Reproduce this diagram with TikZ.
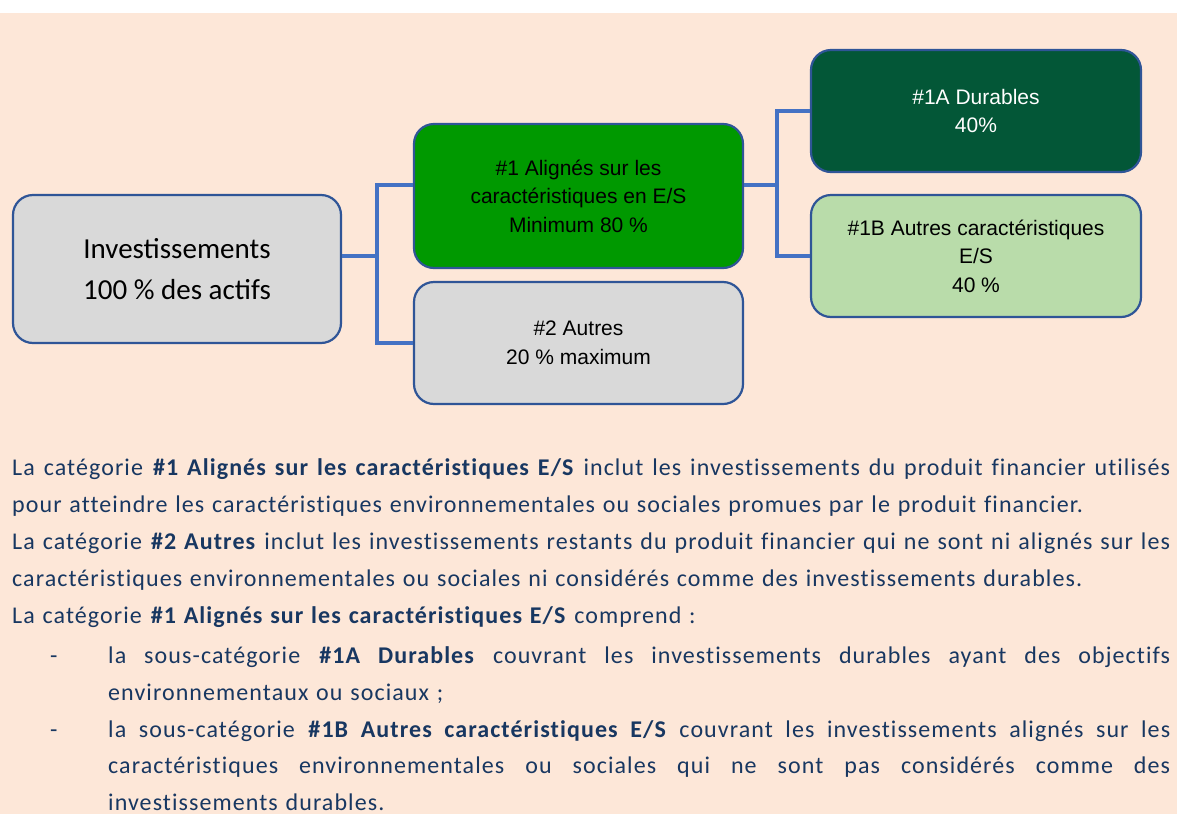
\documentclass[tikz,border=0pt]{standalone}
\usepackage{fontspec}
\setmainfont{Carlito}[Ligatures={NoCommon}, LetterSpace=4.5, WordSpace=1.2]
\newfontfamily\boxfont{Carlito}
\newfontfamily\arialfont{Liberation Sans}
\usetikzlibrary{positioning}
\definecolor{peach}{RGB}{253,231,216}
\definecolor{boxline}{RGB}{47,85,151}
\definecolor{linkblue}{RGB}{68,114,196}
\definecolor{greyfill}{RGB}{217,217,217}
\definecolor{greenfill}{RGB}{0,153,0}
\definecolor{darkgreen}{RGB}{3,87,55}
\definecolor{palegreen}{RGB}{185,220,170}
\definecolor{navytext}{RGB}{24,55,97}
\tikzset{
  box/.style={draw=boxline, line width=2.2pt, rounded corners=20pt, align=center,
    inner sep=0pt, minimum width=329pt, minimum height=122pt,
    font=\arialfont\fontsize{21}{28.5}\selectfont},
  link/.style={draw=linkblue, line width=4.5pt},
  para/.style={anchor=base west, inner sep=0pt, text width=1158pt, align=justify,
    text=navytext, font=\fontsize{24}{37}\selectfont}
}
\begin{document}
\begin{tikzpicture}[x=1pt,y=-1pt]
  \useasboundingbox (0,0) rectangle (1177,814);
  \fill[white] (0,0) rectangle (1177,13);
  \fill[peach] (0,13) rectangle (1177,814);
  % boxes
  \node[box, fill=greyfill, minimum width=328pt, minimum height=148pt,
    font=\boxfont\fontsize{29}{41}\selectfont] (inv) at (177,269) {Investissements\\100 \% des actifs};
  \node[box, fill=greenfill, minimum height=144pt] (alig) at (578.5,196)
    {\#1 Alignés sur les\\caractéristiques en E/S\\Minimum 80 \%};
  \node[box, fill=greyfill] (autr) at (578.5,343) {\#2 Autres\\20 \% maximum};
  \node[box, fill=darkgreen, text=white, minimum width=330pt] (dura) at (976,111)
    {\#1A Durables\\40\%};
  \node[box, fill=palegreen, minimum width=330pt] (autc) at (976,256)
    {\#1B Autres caractéristiques\\E/S\\40 \%};
  % connectors
  \coordinate (fork1) at (377,256);
  \coordinate (fork2) at (777,185);
  \draw[link] ([yshift=13pt]inv.east) -- (fork1);
  \draw[link] ([yshift=11pt]alig.west) -| (fork1) |- (autr.west);
  \draw[link] ([yshift=11pt]alig.east) -- (fork2);
  \draw[link] (dura.west) -| (fork2) |- (autc.west);
  % text below
  \node[para] (txtA) at (12,475) {La catégorie \textbf{\#1 Alignés sur les caractéristiques E/S} inclut les investissements du produit financier utilisés\linebreak pour atteindre les caractéristiques environnementales ou sociales promues par le produit financier.};
  \node[para] (txtB) at (12,549) {La catégorie \textbf{\#2 Autres} inclut les investissements restants du produit financier qui ne sont ni alignés sur les\linebreak caractéristiques environnementales ou sociales ni considérés comme des investissements durables.};
  \node[para] (txtC) at (12,623) {La catégorie \textbf{\#1 Alignés sur les caractéristiques E/S} comprend~:};
  \node[para, text width=20pt] (dashA) at (50,663) {-};
  \node[para, text width=1062pt] (itemA) at (108,663) {la sous-catégorie \textbf{\#1A Durables} couvrant les investissements durables ayant des objectifs\linebreak environnementaux ou sociaux~;};
  \node[para, text width=20pt] (dashB) at (50,737) {-};
  \node[para, text width=1062pt, font=\fontsize{24}{36.5}\selectfont] (itemB) at (108,737) {la sous-catégorie \textbf{\#1B Autres caractéristiques E/S} couvrant les investissements alignés sur les\linebreak caractéristiques environnementales ou sociales qui ne sont pas considérés comme des\linebreak investissements durables.};
\end{tikzpicture}
\end{document}
